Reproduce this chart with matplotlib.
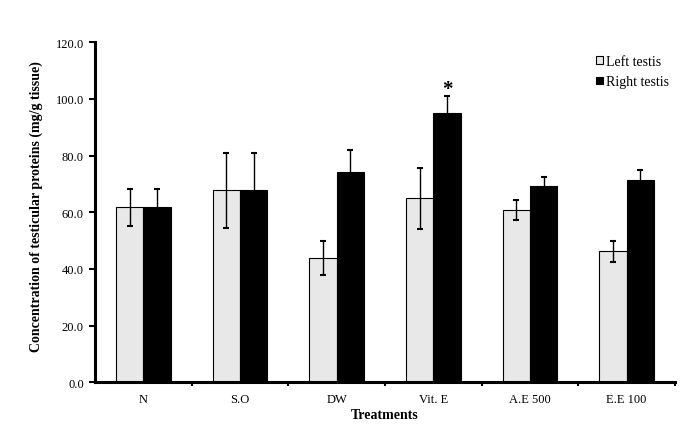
import matplotlib
matplotlib.use("Agg")
import matplotlib.pyplot as plt
import numpy as np

categories = ["N", "S.O", "DW", "Vit. E", "A.E 500", "E.E 100"]
left_vals = [61.8, 67.8, 43.8, 64.9, 60.8, 46.2]
left_err = [6.6, 13.3, 6.0, 10.9, 3.4, 3.6]
right_vals = [61.8, 67.8, 74.3, 95.0, 69.4, 71.3]
right_err = [6.6, 13.3, 7.6, 5.9, 3.0, 3.8]
yticks = [0, 20, 40, 60, 80, 100, 120]

plt.rcParams['font.family'] = ['Liberation Serif', 'DejaVu Serif']

fig = plt.figure(figsize=(6.91, 4.27), dpi=100)
ax = fig.add_axes([95/691, 43.7/427, 580/691, 340/427])

x = np.arange(len(categories))
w = 0.283
ax.bar(x - w/2, left_vals, w, color="#e8e8e8", edgecolor="black", linewidth=0.8,
       label="Left testis", zorder=2)
ax.bar(x + w/2, right_vals, w, color="black", edgecolor="black", linewidth=0.8,
       label="Right testis", zorder=2)
ax.errorbar(x - w/2, left_vals, yerr=left_err, fmt="none", ecolor="black",
            elinewidth=1, capsize=2, capthick=1.5, zorder=3)
ax.errorbar(x + w/2, right_vals, yerr=right_err, fmt="none", ecolor="black",
            elinewidth=1, capsize=2, capthick=1.5, zorder=3)

# significance marker
ax.text(x[3] + w/2, right_vals[3] + right_err[3] - 1.0, "*", ha="center", va="bottom",
        fontsize=15, fontweight="bold")

ax.set_xlim(-0.5, len(categories) - 0.5)
ax.set_ylim(0, 120)
ax.set_yticks(yticks)
ax.set_yticklabels([f"{v:.1f}" for v in yticks], fontsize=9)
ax.set_xticks(x)
ax.set_xticklabels(categories, fontsize=9)
ax.tick_params(axis="x", which="major", length=0, pad=8)
ax.set_xticks(np.arange(0.5, len(categories), 1.0), minor=True)
ax.tick_params(axis="x", which="minor", length=3, width=1.5, direction="out")
ax.tick_params(axis="y", which="major", length=4, width=1.5, direction="out", pad=4)

for s in ["top", "right"]:
    ax.spines[s].set_visible(False)
for s in ["left", "bottom"]:
    ax.spines[s].set_linewidth(2.2)

ax.set_xlabel("Treatments", fontsize=10, fontweight="bold", labelpad=2)
ax.set_ylabel("Concentration of testicular proteins (mg/g tissue)", fontsize=10,
              fontweight="bold", labelpad=9)
ax.yaxis.label.set_y(0.52)

leg = ax.legend(loc="upper right", bbox_to_anchor=(1.012, 1.0), frameon=False,
                fontsize=10, handlelength=0.5, handleheight=0.5, handletextpad=0.25,
                labelspacing=0.55)

fig.savefig("out.png", dpi=100, facecolor="white")
